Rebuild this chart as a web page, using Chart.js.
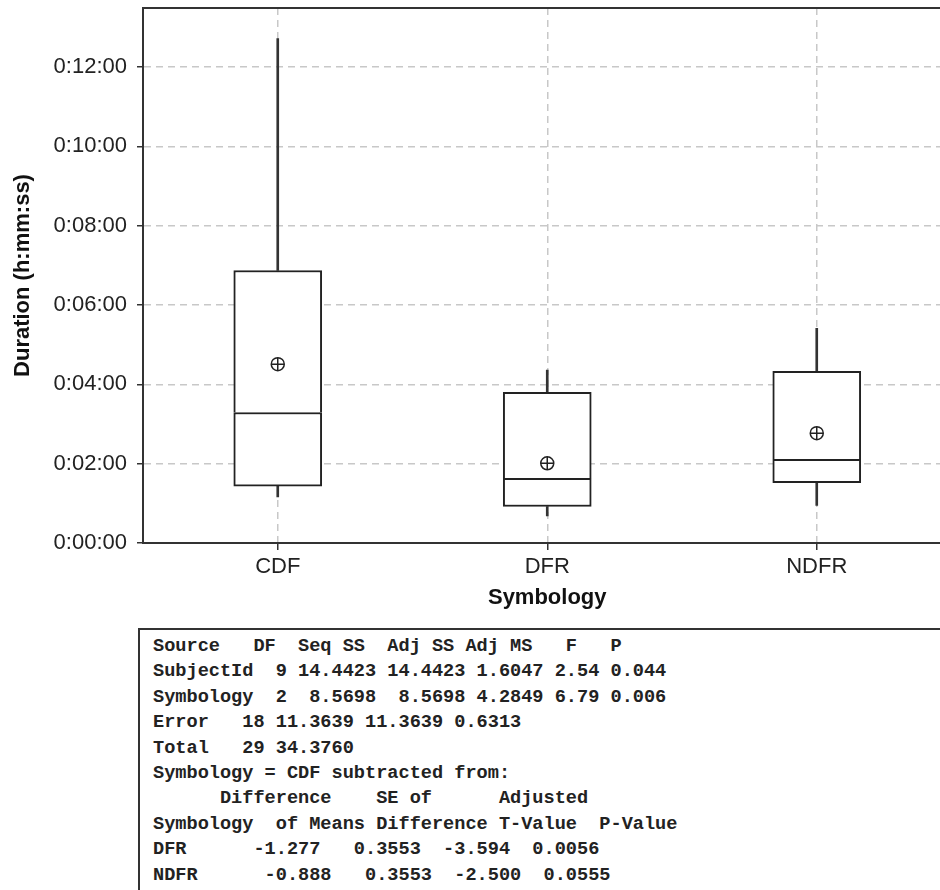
<!DOCTYPE html>
<html>
<head>
<meta charset="utf-8">
<script src="https://cdn.jsdelivr.net/npm/chart.js@4.4.1/dist/chart.umd.min.js"></script>
<style>
  body { margin: 0; background: #fff; }
  #wrap { position: relative; width: 940px; height: 890px; overflow: hidden; background: #fff; }
  #chart { position: absolute; left: 0; top: 0; }
  #stats {
    position: absolute; left: 138px; top: 628px; width: 860px; height: 300px;
    border-top: 2px solid #333; border-left: 2px solid #333;
    margin: 0; padding: 4px 0 0 13px; box-sizing: border-box;
    font-family: "Liberation Mono", "Courier New", monospace; font-size: 18.6px;
    font-weight: bold; line-height: 25.4px; color: #222; white-space: pre;
  }
</style>
</head>
<body>
<div id="wrap">
  <canvas id="chart" width="960" height="615"></canvas>
  <pre id="stats"></pre>
</div>
<script>
// --- Data (minutes) ---
const groups = ["CDF", "DFR", "NDFR"];
const whiskerLow = [1.16, 0.68, 0.95];
const q1 = [1.43, 0.92, 1.52];
const median = [3.29, 1.63, 2.11];
const q3 = [6.87, 3.80, 4.33];
const whiskerHigh = [12.72, 4.36, 5.41];
const means = [4.51, 2.01, 2.77];
const yTicks = [0, 2, 4, 6, 8, 10, 12];

const statLines = [
    "Source   DF  Seq SS  Adj SS Adj MS   F   P",
    "SubjectId  9 14.4423 14.4423 1.6047 2.54 0.044",
    "Symbology  2  8.5698  8.5698 4.2849 6.79 0.006",
    "Error   18 11.3639 11.3639 0.6313",
    "Total   29 34.3760",
    "Symbology = CDF subtracted from:",
    "      Difference    SE of      Adjusted",
    "Symbology  of Means Difference T-Value  P-Value",
    "DFR      -1.277   0.3553  -3.594  0.0056",
    "NDFR      -0.888   0.3553  -2.500  0.0555"
];

document.getElementById("stats").textContent = statLines.join("\n");

// h:mm:ss from minutes
function fmtDuration(v) {
    const total = Math.round(v * 60);
    const h = Math.floor(total / 3600);
    const m = Math.floor((total % 3600) / 60);
    const s = total % 60;
    return h + ":" + String(m).padStart(2, "0") + ":" + String(s).padStart(2, "0");
}

const dark = "#222";
const lineDark = "#333";
const gridGray = "#c8c8c8";

const boxStyle = {
    type: "bar",
    xAxisID: "x",
    backgroundColor: "#fff",
    borderColor: dark,
    borderSkipped: false,
    barThickness: 88,
    grouped: false,
    order: 2
};

const whiskerStyle = {
    type: "bar",
    xAxisID: "x",
    backgroundColor: lineDark,
    borderWidth: 0,
    barThickness: 2,
    grouped: false,
    order: 3
};

// drop label half-height padding so the plot fills the frame
function noPad(scale) {
    scale.paddingTop = 0;
    scale.paddingBottom = 0;
    scale.paddingLeft = 0;
    scale.paddingRight = 0;
}

const ctx = document.getElementById("chart").getContext("2d");

new Chart(ctx, {
    data: {
        labels: groups,
        datasets: [
            {
                type: "line",
                xAxisID: "x",
                data: means,
                showLine: false,
                pointStyle: "circle",
                pointRadius: 6.5,
                pointBorderWidth: 1.5,
                pointBorderColor: dark,
                pointBackgroundColor: "rgba(0,0,0,0)",
                order: 0
            },
            {
                type: "line",
                xAxisID: "x",
                data: means,
                showLine: false,
                pointStyle: "cross",
                pointRadius: 6.5,
                pointBorderWidth: 1.5,
                pointBorderColor: dark,
                order: 0
            },
            // lower half of box, its top edge is the median line
            Object.assign({
                data: groups.map((g, i) => [q1[i], median[i]]),
                borderWidth: 2
            }, boxStyle),
            Object.assign({
                data: groups.map((g, i) => [median[i], q3[i]]),
                borderWidth: { top: 2, left: 2, right: 2, bottom: 0 }
            }, boxStyle),
            Object.assign({ data: groups.map((g, i) => [whiskerLow[i], q1[i]]) }, whiskerStyle),
            Object.assign({ data: groups.map((g, i) => [q3[i], whiskerHigh[i]]) }, whiskerStyle)
        ]
    },
    options: {
        responsive: false,
        animation: false,
        layout: { padding: { top: 6, right: 8.5, left: 0, bottom: 0 } },
        plugins: {
            legend: { display: false },
            tooltip: { enabled: false }
        },
        scales: {
            x: {
                type: "category",
                position: "bottom",
                offset: true,
                grid: {
                    offset: false,
                    color: gridGray,
                    lineWidth: 1.5,
                    tickLength: 7,
                    tickColor: lineDark,
                    tickWidth: 1.5,
                    tickBorderDash: []
                },
                border: { display: true, color: lineDark, width: 2, dash: [7, 5] },
                ticks: {
                    color: dark,
                    padding: 4,
                    font: { family: "'Liberation Sans', Arial, sans-serif", size: 22 }
                },
                title: {
                    display: true,
                    text: "Symbology",
                    color: "#111",
                    padding: { top: 0, bottom: 4 },
                    font: { family: "'Liberation Sans', Arial, sans-serif", size: 22, weight: "bold" }
                },
                afterFit: scale => { noPad(scale); scale.height = 72; }
            },
            x2: {
                type: "category",
                position: "top",
                grid: { display: false, drawTicks: false },
                ticks: { display: false },
                border: { display: true, color: lineDark, width: 2 },
                afterFit: scale => { noPad(scale); scale.height = 0; }
            },
            y: {
                type: "linear",
                min: 0,
                max: 13.49,
                grid: {
                    color: gridGray,
                    lineWidth: 1.5,
                    tickLength: 6,
                    tickColor: lineDark,
                    tickWidth: 1.5,
                    tickBorderDash: []
                },
                border: { display: true, color: lineDark, width: 2, dash: [7, 5] },
                afterBuildTicks: scale => {
                    scale.ticks = yTicks.map(v => ({ value: v }));
                },
                ticks: {
                    color: dark,
                    padding: 10,
                    callback: v => fmtDuration(v),
                    font: { family: "'Liberation Sans', Arial, sans-serif", size: 22 }
                },
                title: {
                    display: true,
                    text: "Duration (h:mm:ss)",
                    color: "#111",
                    padding: { top: 10, bottom: 0 },
                    font: { family: "'Liberation Sans', Arial, sans-serif", size: 22, weight: "bold" }
                },
                afterFit: scale => { noPad(scale); scale.width = 143; }
            }
        }
    }
});
</script>
</body>
</html>
